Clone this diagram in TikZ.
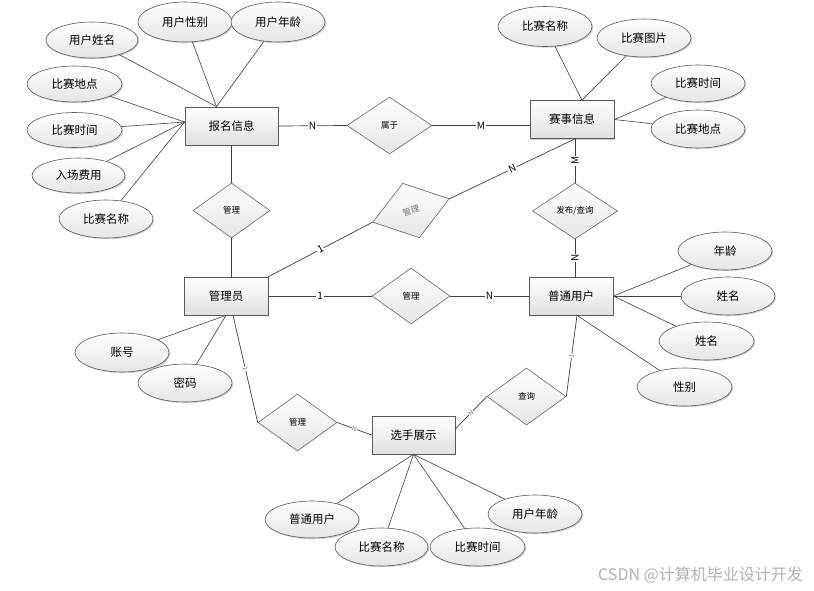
\documentclass[tikz,border=0pt]{standalone}
\usepackage{fontspec}
\setmainfont{Noto Sans CJK SC}
\usetikzlibrary{shapes.geometric,shadows,calc}
\begin{document}
\begin{tikzpicture}[x=1pt,y=-1pt,
  every node/.style={inner sep=0pt},
  shad/.style={drop shadow={shadow xshift=1.2pt,shadow yshift=-1.2pt,fill=black,opacity=0.18}},
  ent/.style={rectangle, draw=black!65, line width=0.7pt, top color=white, bottom color=black!12, minimum width=84, minimum height=38, font=\fontsize{11.5}{13}\selectfont, shad},
  attr/.style={ellipse, draw=black!65, line width=0.6pt, top color=white, bottom color=black!10, minimum width=94, minimum height=38, font=\fontsize{11.5}{13}\selectfont, shad},
  rel/.style={diamond, draw=black!60, line width=0.6pt, top color=white, bottom color=black!10, minimum width=79, minimum height=56, font=\fontsize{8.5}{10}\selectfont},
  ln/.style={draw=black!75, line width=0.7pt},
  card/.style={fill=white, font=\fontsize{10}{11}\selectfont, inner sep=0.8pt},
  tcard/.style={fill=white, font=\fontsize{6.5}{7}\selectfont, text=black!55, inner sep=0.4pt, sloped},
]
\useasboundingbox (0,0) rectangle (814,590);
\fill[white] (0,0) rectangle (814,590);

% entities
\node[ent, minimum width=93] (bm) at (231.5,126) {报名信息};
\node[ent] (ss) at (572,119.5) {赛事信息};
\node[ent] (gly) at (226,296) {管理员};
\node[ent] (pt) at (571,296) {普通用户};
\node[ent, minimum width=83] (xs) at (413.5,435) {选手展示};

% relations
\node[rel, minimum width=85, minimum height=57] (r1) at (389.5,125.5) {属于};
\node[rel, minimum width=77, minimum height=55] (r2) at (231.5,210.5) {管理};
\node[rel, minimum width=80, minimum height=57, rotate=17, text=black!55] (r3) at (411,210.5) {管理};
\node[rel, minimum width=85, minimum height=56] (r4) at (575,211) {发布/查询};
\node[rel, minimum width=78, minimum height=56] (r5) at (411,296) {管理};
\node[rel, minimum width=79, minimum height=57] (r6) at (297.5,422.5) {管理};
\node[rel, minimum width=79, minimum height=57] (r7) at (526.5,396.5) {查询};

% attributes of 报名信息
\node[attr, minimum width=92, minimum height=36] (a1) at (92,40) {用户姓名};
\node[attr, minimum height=40] (a2) at (185,22) {用户性别};
\node[attr, minimum height=40] (a3) at (278,22) {用户年龄};
\node[attr, minimum width=95, minimum height=36] (a4) at (74.5,84) {比赛地点};
\node[attr, minimum width=95, minimum height=35] (a5) at (74.5,130) {比赛时间};
\node[attr, minimum width=93, minimum height=35] (a6) at (78.5,175.5) {入场费用};
\node[attr] (a7) at (106,219) {比赛名称};

% attributes of 赛事信息
\node[attr, minimum height=40] (b1) at (545,26.5) {比赛名称};
\node[attr] (b2) at (644,38) {比赛图片};
\node[attr, minimum height=37] (b3) at (698,83.5) {比赛时间};
\node[attr] (b4) at (698,129) {比赛地点};

% attributes of 普通用户
\node[attr] (c1) at (725,251) {年龄};
\node[attr] (c2) at (728,296) {姓名};
\node[attr, minimum width=95] (c3) at (706.5,341) {姓名};
\node[attr, minimum width=95] (c4) at (684.5,387) {性别};

% attributes of 管理员
\node[attr, minimum height=39] (d1) at (122,352.5) {账号};
\node[attr] (d2) at (185,383) {密码};

% attributes of 选手展示
\node[attr, minimum height=37] (e1) at (312,519.5) {普通用户};
\node[attr, minimum width=93] (e2) at (381.5,547) {比赛名称};
\node[attr, minimum width=95] (e3) at (477.5,547) {比赛时间};
\node[attr] (e4) at (535,514) {用户年龄};

% helper coordinates
\coordinate (bmT) at ($(bm.north)+(-15,0)$);
\coordinate (bmL) at ($(bm.west)+(0,-4)$);
\coordinate (ssT) at ($(ss.north)+(10,0)$);
\coordinate (ssB) at ($(ss.south)+(3,0)$);
\coordinate (ssW) at (ss.west |- r1.east);
\coordinate (ptB) at ($(pt.south)+(6,0)$);
\coordinate (glyB) at ($(gly.south)+(7,0)$);
\coordinate (xsE) at ($(xs.east)+(0,-6)$);

% attribute links
\foreach \a in {a1,a2,a3} \draw[ln, line width=0.6pt] (\a) -- (bmT);
\foreach \a in {a4,a5,a6,a7} \draw[ln, line width=0.6pt] (\a) -- (bmL);
\foreach \a in {b1,b2} \draw[ln, line width=0.6pt] (\a) -- (ssT);
\foreach \a in {b3,b4} \draw[ln, line width=0.6pt] (\a) -- (ss.east);
\foreach \a in {c1,c2,c3} \draw[ln, line width=0.6pt] (\a) -- (pt.east);
\draw[ln, line width=0.6pt] (c4) -- (ptB);
\foreach \a in {d1,d2} \draw[ln, line width=0.6pt] (\a) -- (gly.south);
\foreach \a in {e1,e2,e3,e4} \draw[ln, line width=0.6pt] (\a) -- (xs.south);

% relationship links
\draw[ln] (bm.east) -- node[card]{N} (r1.west);
\draw[ln] (r1.east) -- node[card]{M} (ssW);
\draw[ln] (bm.south) -- (r2.north);
\draw[ln] (r2.south) -- (r2.south |- gly.north);
\draw[ln] (gly.north east) -- node[card, sloped]{1} (r3.west);
\draw[ln] (r3.east) -- node[card, sloped]{N} (ssB);
\draw[ln] (ssB) -- node[card, rotate=90]{M} (r4.north);
\draw[ln] (r4.south) -- node[card, rotate=90]{N} (r4.south |- pt.north);
\draw[ln] (gly.east) -- node[card]{1} (r5.west);
\draw[ln] (r5.east) -- node[card]{N} (pt.west);
\draw[ln] (glyB) -- node[tcard]{1} (r6.west);
\draw[ln] (r6.east) -- node[tcard]{N} (xs.west);
\draw[ln] (ptB) -- node[tcard]{1} (r7.east);
\draw[ln] (r7.west) -- node[tcard]{N} (xsE);

% watermark
\node[anchor=east, text=black!30, font=\fontsize{16}{18}\selectfont] (wm) at (803,575) {CSDN @计算机毕业设计开发};
\end{tikzpicture}
\end{document}
